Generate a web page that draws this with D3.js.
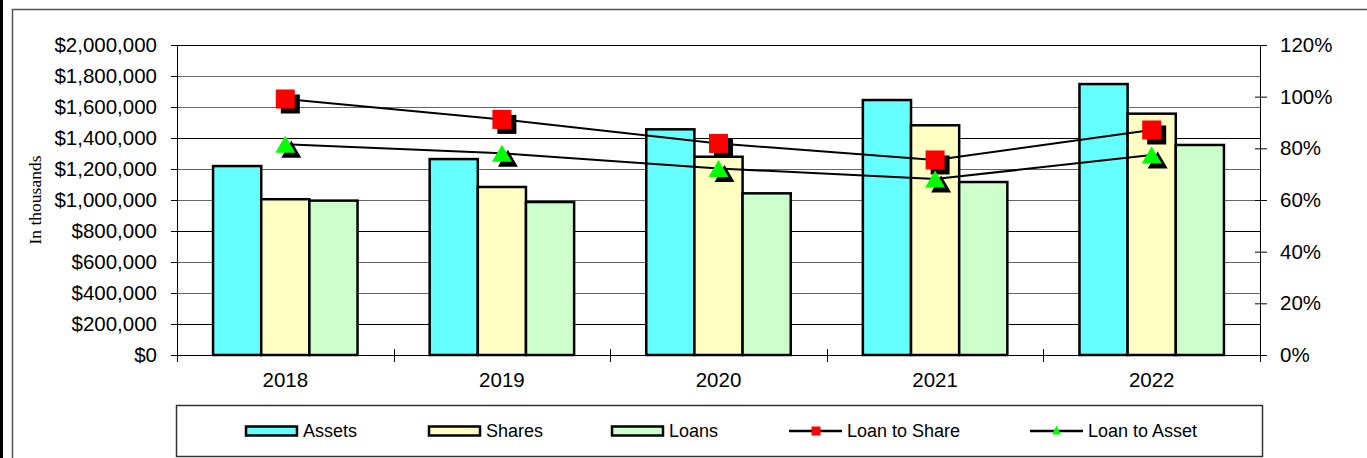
<!DOCTYPE html>
<html>
<head>
<meta charset="utf-8">
<script src="https://cdn.jsdelivr.net/npm/d3@7"></script>
<style>
  body { margin: 0; background: #fff; }
  svg text { font-family: Arial, "Liberation Sans", sans-serif; fill: #000; }
</style>
</head>
<body>
<div class="main"></div>
<script>
// data (values in thousands of dollars / percent)
var years = ['2018', '2019', '2020', '2021', '2022'];
var assets = [1219000, 1264000, 1456000, 1645000, 1748000];
var shares = [1005000, 1084000, 1279000, 1482000, 1557000];
var loans = [996000, 987000, 1043000, 1116000, 1355000];
var loanToShare = [99.1, 91.2, 81.9, 75.5, 87.1];
var loanToAsset = [81.6, 78.1, 72.2, 68.1, 77.4];
var leftTicks = [0, 200000, 400000, 600000, 800000, 1000000, 1200000, 1400000, 1600000, 1800000, 2000000];
var rightTicks = [0, 20, 40, 60, 80, 100, 120];

var barSeries = [
    { name: 'Assets', values: assets, color: '#66ffff' },
    { name: 'Shares', values: shares, color: '#ffffc4' },
    { name: 'Loans', values: loans, color: '#ccffcc' }
];

var W = 1367, H = 458;
var plotLeft = 177, plotRight = 1260, plotTop = 45, plotBottom = 355;

var svg = d3.select('.main')
    .append('svg')
    .attr('width', W)
    .attr('height', H);

svg.append('rect')
    .attr('x', 0).attr('y', 0)
    .attr('width', W).attr('height', H)
    .style('fill', '#fff');

// chart frame
svg.append('rect')
    .attr('x', 12.5).attr('y', 9.5)
    .attr('width', W + 20).attr('height', H + 20)
    .style('fill', 'none')
    .style('stroke', '#555')
    .style('stroke-width', '1.5px');

svg.append('rect')
    .attr('x', 0).attr('y', 0)
    .attr('width', 3).attr('height', H)
    .style('fill', '#000');

var x0 = d3.scaleBand().domain(years).range([plotLeft, plotRight])
    .paddingInner(0.333).paddingOuter(0.1665);
var x1 = d3.scaleBand().domain(barSeries.map(function (d) { return d.name; }))
    .range([0, x0.bandwidth()]);
var yL = d3.scaleLinear().domain([0, 2000000]).range([plotBottom, plotTop]);
var yR = d3.scaleLinear().domain([0, 120]).range([plotBottom, plotTop]);

// gridlines
svg.append('g')
    .selectAll('line')
    .data(leftTicks)
    .enter()
    .append('line')
    .attr('x1', plotLeft).attr('x2', plotRight)
    .attr('y1', function (d) { return Math.round(yL(d)) + 0.5; })
    .attr('y2', function (d) { return Math.round(yL(d)) + 0.5; })
    .style('stroke', function (d, i) { return i % 3 === 1 ? '#000' : '#666'; })
    .style('stroke-width', '1px');

// left axis
var gL = svg.append('g')
    .attr('transform', 'translate(' + [plotLeft, 0] + ')')
    .call(d3.axisLeft(yL).tickValues(leftTicks).tickFormat(d3.format('$,')).tickSize(6).tickPadding(14));
gL.selectAll('text').style('font-size', '20.5px');
gL.selectAll('line, path').style('stroke', '#000');

// right axis
var gR = svg.append('g')
    .attr('transform', 'translate(' + [plotRight, 0] + ')')
    .call(d3.axisRight(yR).tickValues(rightTicks).tickFormat(function (d) { return d + '%'; }).tickSize(7).tickPadding(13));
gR.selectAll('.tick line').attr('x1', -5);
gR.selectAll('text').style('font-size', '20.5px');
gR.selectAll('line, path').style('stroke', '#000');
gR.select('.domain').attr('d', 'M0.5,' + plotTop + 'V' + plotBottom);

// bottom axis
var gB = svg.append('g')
    .attr('transform', 'translate(' + [0, plotBottom] + ')')
    .call(d3.axisBottom(x0).tickSize(0).tickPadding(17));
gB.select('.domain').attr('d', 'M' + plotLeft + ',0.5H' + plotRight).style('stroke', '#000');
gB.selectAll('text').style('font-size', '20.5px');

var bounds = years.map(function (y) { return x0(y) - (x0.step() - x0.bandwidth()) / 2; });
bounds.push(plotRight);
gB.selectAll('.sep')
    .data(bounds)
    .enter()
    .append('line')
    .attr('class', 'sep')
    .attr('x1', function (d) { return Math.round(d) + 0.5; })
    .attr('x2', function (d) { return Math.round(d) + 0.5; })
    .attr('y1', -6).attr('y2', 7)
    .style('stroke', '#000');

// bars
var groups = svg.append('g')
    .selectAll('.year')
    .data(years)
    .enter()
    .append('g')
    .attr('class', 'year')
    .attr('transform', function (d) { return 'translate(' + [x0(d), 0] + ')'; });

groups.selectAll('rect')
    .data(function (d, i) {
        return barSeries.map(function (s) { return { name: s.name, color: s.color, value: s.values[i] }; });
    })
    .enter()
    .append('rect')
    .attr('x', function (d) { return x1(d.name); })
    .attr('y', function (d) { return yL(d.value); })
    .attr('width', x1.bandwidth())
    .attr('height', function (d) { return plotBottom - yL(d.value); })
    .style('fill', function (d) { return d.color; })
    .style('stroke', '#000')
    .style('stroke-width', '2.5px');

// ratio lines
var cx = function (d, i) { return x0(years[i]) + x0.bandwidth() / 2; };
var line = d3.line()
    .x(function (d, i) { return cx(d, i); })
    .y(function (d) { return yR(d); });

[loanToShare, loanToAsset].forEach(function (arr) {
    svg.append('path')
        .attr('d', line(arr))
        .style('fill', 'none')
        .style('stroke', '#000')
        .style('stroke-width', '2px');
});

function triPath(w, h) {
    return 'M0,' + (-h / 2) + 'L' + (w / 2) + ',' + (h / 2) + 'L' + (-w / 2) + ',' + (h / 2) + 'Z';
}

// square markers with shadow
var sq = svg.append('g').selectAll('.sq')
    .data(loanToShare)
    .enter()
    .append('g')
    .attr('transform', function (d, i) { return 'translate(' + [cx(d, i), yR(d)] + ')'; });
sq.append('rect')
    .attr('x', -9.5 + 5).attr('y', -9.5 + 5)
    .attr('width', 19).attr('height', 19)
    .style('fill', '#000');
sq.append('rect')
    .attr('x', -9.5).attr('y', -9.5)
    .attr('width', 19).attr('height', 19)
    .style('fill', '#ff0000');

// triangle markers with shadow
var tr = svg.append('g').selectAll('.tr')
    .data(loanToAsset)
    .enter()
    .append('g')
    .attr('transform', function (d, i) { return 'translate(' + [cx(d, i), yR(d)] + ')'; });
tr.append('path')
    .attr('d', triPath(20, 17))
    .attr('transform', 'translate(6,5)')
    .style('fill', '#000');
tr.append('path')
    .attr('d', triPath(20, 17))
    .style('fill', '#00ff00');

// y label
svg.append('text')
    .attr('transform', 'translate(41,200) rotate(-90)')
    .attr('text-anchor', 'middle')
    .style('font-family', '"Times New Roman", "Liberation Serif", serif')
    .style('font-size', '17.5px')
    .text('In thousands');

// legend
var leg = svg.append('g');
leg.append('rect')
    .attr('x', 176.5).attr('y', 405.5)
    .attr('width', 1086).attr('height', 51)
    .style('fill', '#fff')
    .style('stroke', '#333')
    .style('stroke-width', '1.5px');

var legY = 431;
var legItems = [
    { name: 'Assets', x: 245, type: 'bar', color: '#66ffff' },
    { name: 'Shares', x: 428, type: 'bar', color: '#ffffc4' },
    { name: 'Loans', x: 611, type: 'bar', color: '#ccffcc' },
    { name: 'Loan to Share', x: 789, type: 'sq', color: '#ff0000' },
    { name: 'Loan to Asset', x: 1030, type: 'tri', color: '#00ff00' }
];

legItems.forEach(function (it) {
    var g = leg.append('g').attr('transform', 'translate(' + [it.x, legY] + ')');
    if (it.type === 'bar') {
        g.append('rect')
            .attr('x', 1).attr('y', -4.5)
            .attr('width', 51).attr('height', 9)
            .style('fill', it.color)
            .style('stroke', '#000')
            .style('stroke-width', '2.5px');
    } else {
        g.append('line')
            .attr('x1', 0).attr('x2', 53)
            .attr('y1', 0).attr('y2', 0)
            .style('stroke', '#000')
            .style('stroke-width', '2.5px');
        if (it.type === 'sq') {
            g.append('rect')
                .attr('x', 22.5).attr('y', -4.5)
                .attr('width', 9).attr('height', 9)
                .style('fill', it.color);
        } else {
            g.append('path')
                .attr('d', triPath(9, 9))
                .attr('transform', 'translate(26.5,-1)')
                .style('fill', it.color);
        }
    }
    g.append('text')
        .attr('x', 58)
        .attr('y', 0)
        .attr('dy', '0.35em')
        .style('font-size', '18px')
        .text(it.name);
});
</script>
</body>
</html>
